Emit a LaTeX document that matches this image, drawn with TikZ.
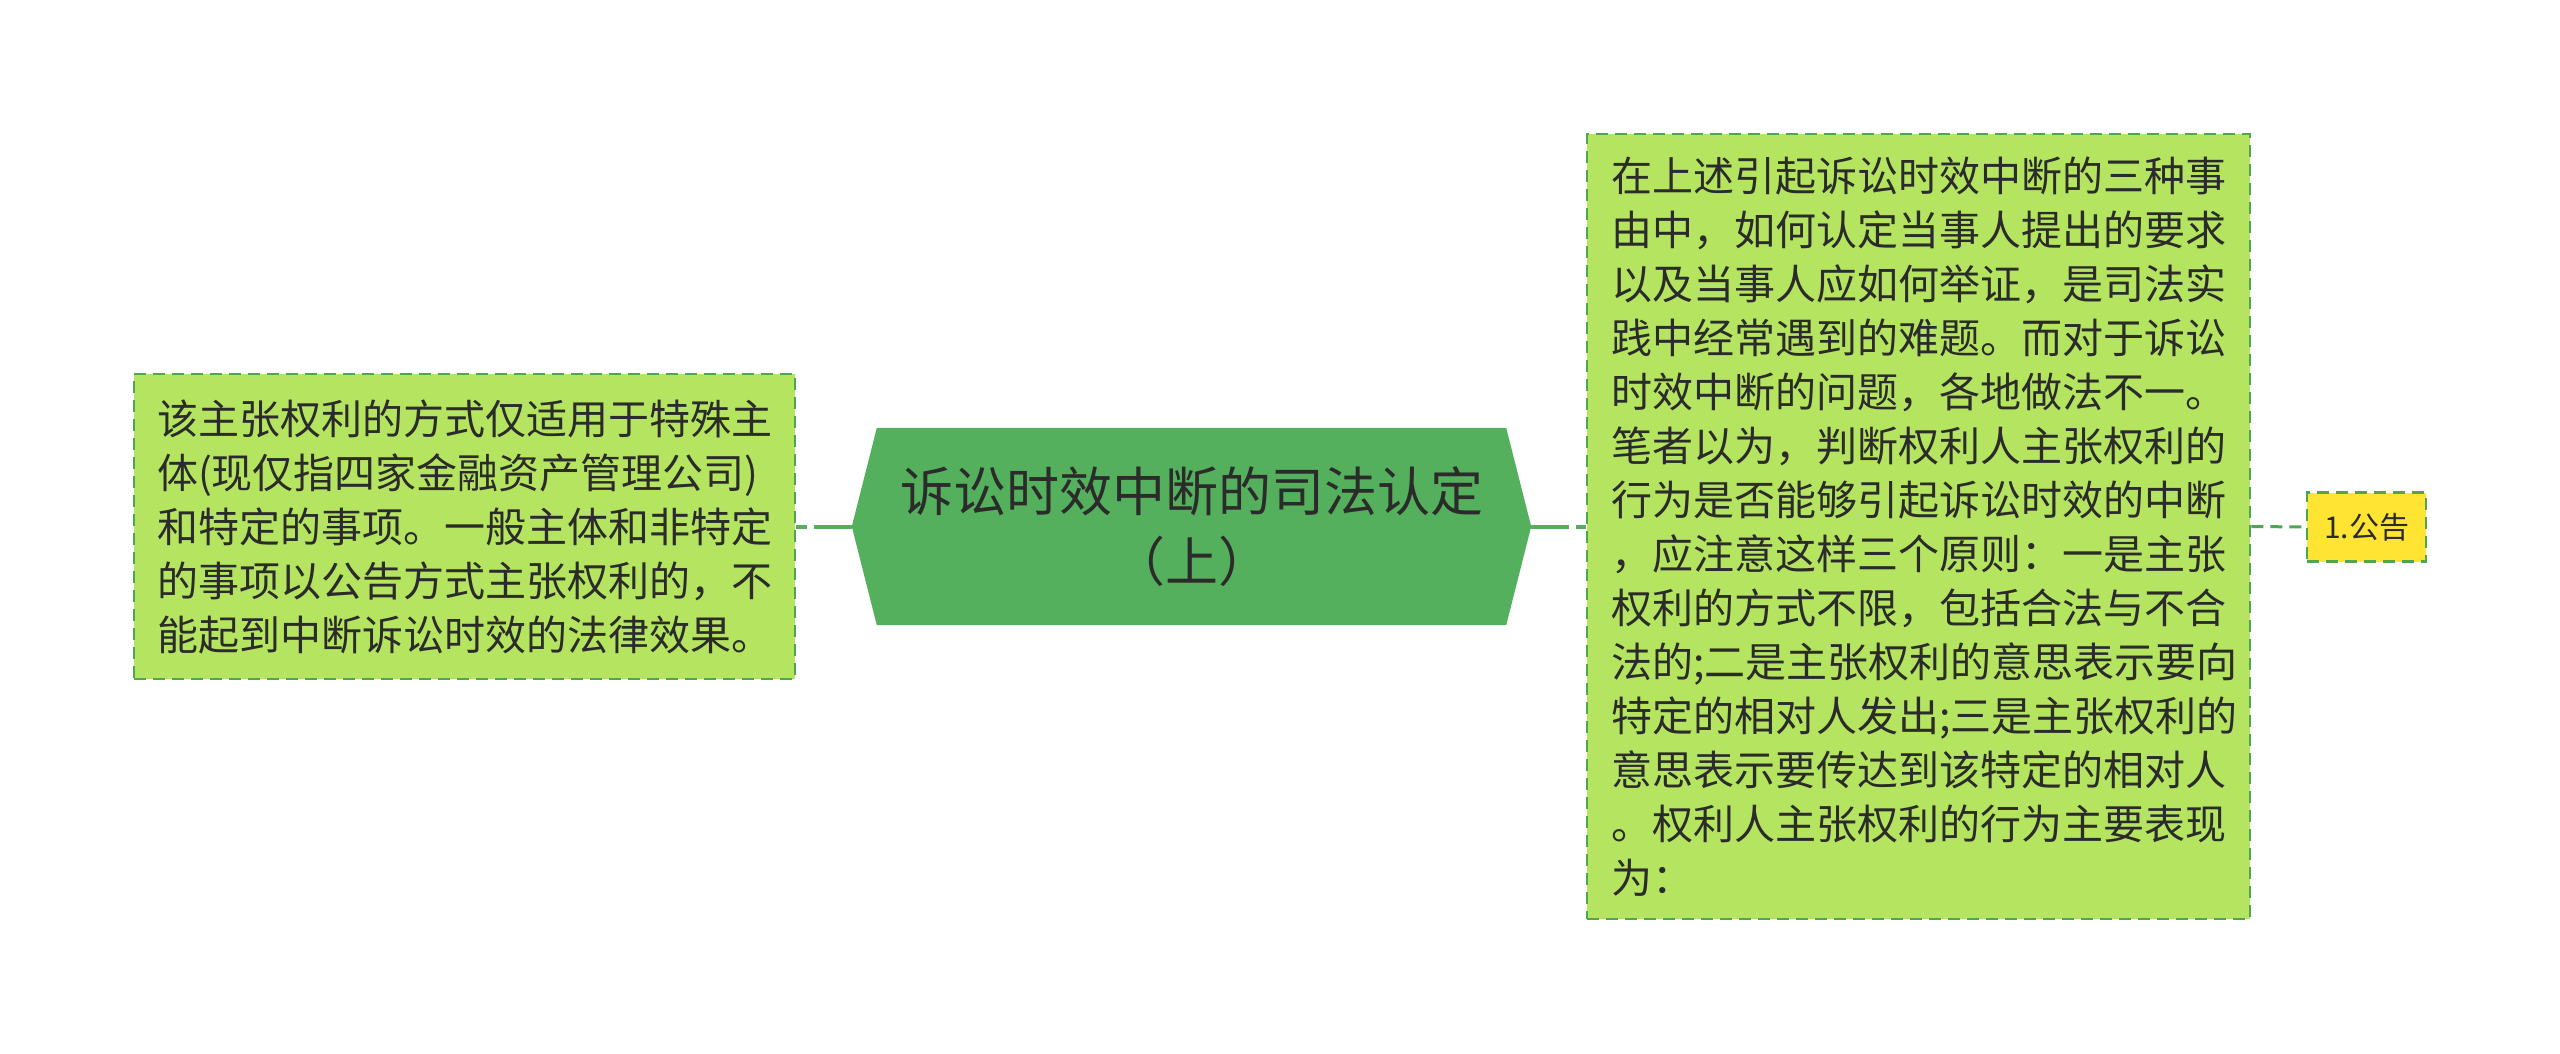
\documentclass[tikz,border=0pt]{standalone}
\usepackage{fontspec}
\setmainfont{Noto Sans CJK SC}
\usetikzlibrary{backgrounds}
\definecolor{hubgreen}{HTML}{54B05C}
\definecolor{leafgreen}{HTML}{B4E460}
\definecolor{bordergreen}{HTML}{4EA652}
\definecolor{conngreen}{HTML}{56AE5C}
\definecolor{tagyellow}{HTML}{FFE433}
\definecolor{textdark}{HTML}{2B2B2B}
\begin{document}
\begin{tikzpicture}[x=1pt,y=-1pt,
  leaf/.style={draw=bordergreen, line width=2.5pt, dash pattern=on 12pt off 7pt,
    fill=leafgreen, text=textdark, align=left, text width=615pt, inner sep=0pt,
    font=\fontsize{41}{54}\selectfont},
  hub/.style={inner sep=0pt, minimum width=679pt, minimum height=197pt,
    align=center, text=textdark, font=\fontsize{53}{70}\selectfont},
  tagbox/.style={draw=bordergreen, line width=2.5pt, dash pattern=on 12pt off 7pt,
    fill=tagyellow, text=textdark, inner sep=0pt, minimum width=119pt,
    minimum height=69pt, font=\fontsize{30}{36}\selectfont},
  conn/.style={draw=conngreen, line width=4pt, dash pattern=on 38pt off 7pt on 12pt off 7pt},
  subconn/.style={draw=bordergreen, line width=3pt, dash pattern=on 12pt off 7pt}]
\useasboundingbox (0,0) rectangle (2560,1054);

\node[hub] (c) at (1191.5,526.5) {诉讼时效中断的司法认定\\（上）};

\node[leaf, minimum width=661pt, minimum height=305pt] (l) at (464.5,526.5)
 {该主张权利的方式仅适用于特殊主\\
  体(现仅指四家金融资产管理公司)\\
  和特定的事项。一般主体和非特定\\
  的事项以公告方式主张权利的，不\\
  能起到中断诉讼时效的法律效果。};

\node[leaf, minimum width=663pt, minimum height=785pt] (r) at (1918.5,526.5)
 {在上述引起诉讼时效中断的三种事\\
  由中，如何认定当事人提出的要求\\
  以及当事人应如何举证，是司法实\\
  践中经常遇到的难题。而对于诉讼\\
  时效中断的问题，各地做法不一。\\
  笔者以为，判断权利人主张权利的\\
  行为是否能够引起诉讼时效的中断\\
  ，应注意这样三个原则：一是主张\\
  权利的方式不限，包括合法与不合\\
  法的;二是主张权利的意思表示要向\\
  特定的相对人发出;三是主张权利的\\
  意思表示要传达到该特定的相对人\\
  。权利人主张权利的行为主要表现\\
  为：};

\node[tagbox] (s) at (2366.5,527) {1.公告};

\begin{scope}[on background layer]
  \fill[white] (0,0) rectangle (2560,1054);
  \fill[hubgreen] (c.west) -- ([xshift=25pt]c.north west) -- ([xshift=-25pt]c.north east)
    -- (c.east) -- ([xshift=-25pt]c.south east) -- ([xshift=25pt]c.south west) -- cycle;
  \draw[conn] (c.west) -- (l.east);
  \draw[conn] (c.east) -- (r.west);
  \draw[subconn] (r.east) -- (s.west);
\end{scope}
\end{tikzpicture}
\end{document}
